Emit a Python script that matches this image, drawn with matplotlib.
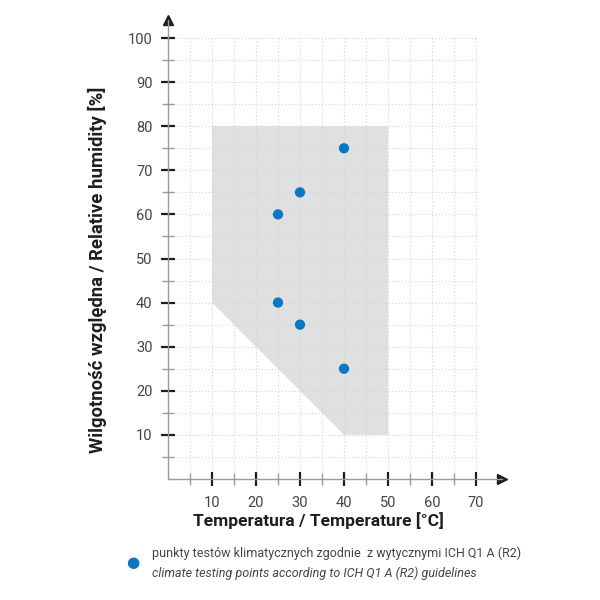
import matplotlib
matplotlib.use('Agg')
import matplotlib.pyplot as plt
import numpy as np

plt.rcParams['font.family'] = ['Roboto', 'DejaVu Sans']

# climate test points (temperature, humidity)
temps = [40, 30, 25, 25, 30, 40]
hums = [75, 65, 60, 40, 35, 25]

# shaded area outline
area_t = [10, 50, 50, 40, 10]
area_h = [80, 80, 10, 10, 40]

xticks = [10, 20, 30, 40, 50, 60, 70]
yticks = [10, 20, 30, 40, 50, 60, 70, 80, 90, 100]
grid_x = np.arange(5, 75, 5)
grid_y = np.arange(5, 105, 5)

blue = '#0a78c2'
dark = '#1e1e1e'

fig = plt.figure(figsize=(6, 6), dpi=100)
ax = fig.add_axes([0.28, 0.2017, 0.5573, 0.7643])
ax.set_xlim(0, 76)
ax.set_ylim(0, 104)

ax.fill(area_t, area_h, color='#e0e0e0', lw=0, zorder=0.9)

# dotted grid, only inside 0..70 / 0..100
ax.vlines(grid_x, 0, 100, colors='#d4d4d4', linestyles=(0, (1, 2)), lw=0.8, zorder=1.1)
ax.hlines(grid_y, 0, 70, colors='#d4d4d4', linestyles=(0, (1, 2)), lw=0.8, zorder=1.1)

ax.scatter(temps, hums, s=55, color=blue, zorder=5, edgecolors='none')

for s in ['top', 'right']:
    ax.spines[s].set_visible(False)
for s in ['left', 'bottom']:
    ax.spines[s].set_color('#9a9a9a')
    ax.spines[s].set_linewidth(1)

# arrow heads at axis ends
ax.plot(1, 0, '>', color=dark, ms=6.5, transform=ax.transAxes, clip_on=False)
ax.plot(0, 1, '^', color=dark, ms=6.5, transform=ax.transAxes, clip_on=False)

ax.set_xticks(xticks)
ax.set_yticks(yticks)
ax.set_xticks(np.arange(5, 75, 10), minor=True)
ax.set_yticks(np.arange(5, 100, 10), minor=True)
ax.tick_params(which='major', direction='inout', length=10.5, width=1.6, color=dark,
               labelsize=10.5, labelcolor='#444444')
ax.tick_params(axis='x', which='major', pad=7)
ax.tick_params(axis='y', which='major', pad=6)
ax.tick_params(which='minor', direction='inout', length=8, width=1, color='#9a9a9a')

ax.set_xlabel('Temperatura / Temperature [°C]', fontsize=12.5, fontweight='bold',
              color=dark)
ax.xaxis.set_label_coords(0.449, -0.072)
ax.set_ylabel('Wilgotność względna / Relative humidity [%]', fontsize=13.3,
              fontweight='bold', color=dark)
ax.yaxis.set_label_coords(-0.182, 0.456)

# legend below
fig.text(0.222, 0.062, '●', color=blue, fontsize=11, ha='center', va='center')
fig.text(0.253, 0.078, 'punkty testów klimatycznych zgodnie  z wytycznymi ICH Q1 A (R2)',
         fontsize=9, color='#444444', va='center')
fig.text(0.253, 0.045, 'climate testing points according to ICH Q1 A (R2) guidelines',
         fontsize=9, color='#444444', va='center', style='italic')

fig.savefig('out.png', dpi=100)
